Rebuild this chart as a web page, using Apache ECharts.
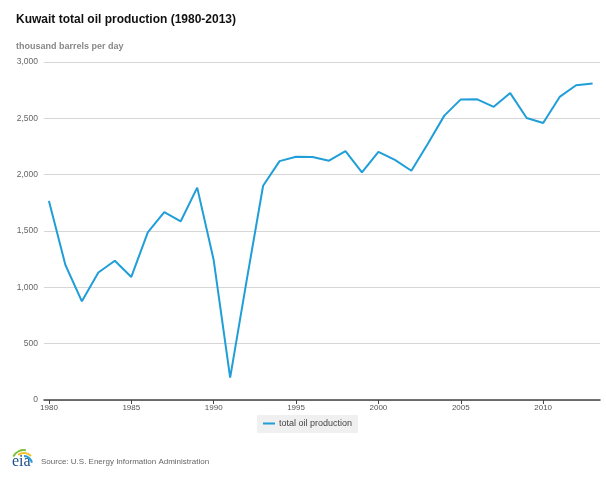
<!DOCTYPE html>
<html><head><meta charset="utf-8">
<script src="https://cdn.jsdelivr.net/npm/echarts@6/dist/echarts.min.js"></script>
<style>html,body{margin:0;padding:0;background:#fff}#c{width:606px;height:480px}</style>
</head><body><div id="c"></div>
<script>
const years = [1980,1981,1982,1983,1984,1985,1986,1987,1988,1989,1990,1991,1992,1993,1994,1995,1996,1997,1998,1999,2000,2001,2002,2003,2004,2005,2006,2007,2008,2009,2010,2011,2012,2013];
const production = [1766,1198,876,1132,1236,1092,1488,1668,1586,1885,1242,198,1060,1902,2120,2159,2156,2124,2209,2020,2203,2132,2035,2275,2524,2668,2669,2602,2724,2503,2459,2690,2794,2809];
const xTickLabels = [1980,1985,1990,1995,2000,2005,2010];

const font = '"Liberation Sans", Arial, sans-serif';
const chart = echarts.init(document.getElementById('c'), null, {renderer:'canvas'});
chart.setOption({
  animation:false,
  backgroundColor:'#fff',
  title:[
    {text:'Kuwait total oil production (1980-2013)', left:11, top:9, padding:5,
     textStyle:{fontFamily:font, fontSize:12, fontWeight:'bold', color:'#111'}},
    {text:'thousand barrels per day', left:11, top:37, padding:5,
     textStyle:{fontFamily:font, fontSize:9, fontWeight:'bold', color:'#888'}}
  ],
  grid:{left:44, right:6, top:62, bottom:80, containLabel:false},
  legend:{
    data:['total oil production'], left:257, top:415,
    backgroundColor:'#f0f0f0', padding:[4,6,5,6],
    itemWidth:12, itemHeight:2, itemGap:4, icon:'rect',
    textStyle:{fontFamily:font, fontSize:9, color:'#444', padding:[0,0,0,-1]}
  },
  xAxis:{
    type:'value', min:1979.7, max:2013.45,
    axisLine:{show:true, lineStyle:{color:'#444', width:1.5}},
    axisTick:{show:true, customValues:xTickLabels, length:4, lineStyle:{color:'#444'}},
    axisLabel:{customValues:xTickLabels, fontFamily:font, fontSize:8, color:'#555', margin:4,
      formatter:v=>String(v)},
    splitLine:{show:false}
  },
  yAxis:{
    type:'value', min:0, max:3000, interval:500,
    axisLine:{show:false}, axisTick:{show:false},
    axisLabel:{fontFamily:font, fontSize:8.5, color:'#666', margin:6,
      formatter:v=>v.toLocaleString('en-US')},
    splitLine:{lineStyle:{color:'#d6d6d6', width:1}}
  },
  series:[{
    name:'total oil production', type:'line',
    data:years.map((y,i)=>[y,production[i]]),
    showSymbol:false, symbol:'none',
    lineStyle:{color:'#1f9ed8', width:2},
    itemStyle:{color:'#1f9ed8'}
  }],
  graphic:[
    {type:'text', left:41, top:458, style:{text:'Source: U.S. Energy Information Administration', font:'8px '+font, fill:'#666'}},
    {type:'text', left:12, top:454, style:{text:'eia', font:'16px "Liberation Serif", serif', fill:'#1d4f8a'}},
    {type:'arc', shape:{cx:24, cy:462, r:12, startAngle:Math.PI*1.15, endAngle:Math.PI*1.55}, style:{stroke:'#7bbf3a', lineWidth:2, fill:null}},
    {type:'arc', shape:{cx:24, cy:463, r:10, startAngle:Math.PI*1.3, endAngle:Math.PI*1.75}, style:{stroke:'#f2c12e', lineWidth:2, fill:null}},
    {type:'arc', shape:{cx:24, cy:464, r:8, startAngle:Math.PI*1.5, endAngle:Math.PI*1.95}, style:{stroke:'#2a9fd8', lineWidth:2, fill:null}}
  ]
});
</script></body></html>
